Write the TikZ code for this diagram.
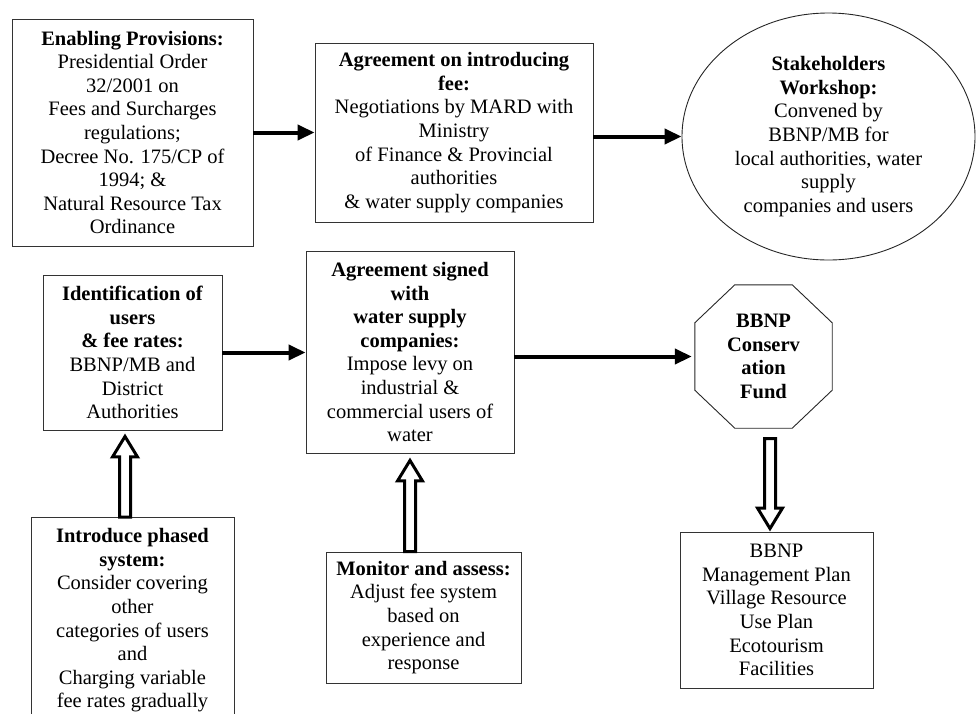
\documentclass[tikz,border=0pt]{standalone}
\usepackage{fontspec}
\setmainfont{Liberation Serif}
\usetikzlibrary{arrows.meta,shapes.geometric,calc}

\begin{document}
\begin{tikzpicture}[x=1pt,y=-1pt,
  every node/.style={font=\fontsize{20.5}{23.6}\selectfont, align=center, inner sep=0pt},
  card/.style={draw=black!80, line width=0.9pt, rectangle},
  outline/.style={draw=black!85, line width=0.9pt},
  flow/.style={line width=4pt, -{Triangle[length=17pt,width=15pt]}},
  hollow/.style={draw=black, fill=white, line width=3pt, line join=miter}
]
\useasboundingbox (0,0) rectangle (977,713);
\clip (0,0) rectangle (977,713);

% top row
\node[card, minimum width=241, minimum height=227] (enable) at (132.5,132.5)
  {\textbf{Enabling Provisions:}\\Presidential Order\\32/2001 on\\Fees and Surcharges\\regulations;\\Decree No. 175/CP of\\1994; \&\\Natural Resource Tax\\Ordinance};

\node[card, minimum width=278, minimum height=179] (negot) at (454,132.5)
  {\textbf{Agreement on introducing}\\\textbf{fee:}\\Negotiations by MARD with\\Ministry\\of Finance \& Provincial\\authorities\\\& water supply companies};

\node[outline, ellipse, minimum width=293, minimum height=247] (work) at (828.5,136.5)
  {\textbf{Stakeholders}\\\textbf{Workshop:}\\Convened by\\BBNP/MB for\\local authorities, water\\supply\\companies and users};

% middle row
\node[card, minimum width=179, minimum height=155] (ident) at (132.5,352.5)
  {\textbf{Identification of}\\\textbf{users}\\\textbf{\& fee rates:}\\BBNP/MB and\\District\\Authorities};

\node[card, minimum width=208, minimum height=202] (signed) at (410,352)
  {\textbf{Agreement signed}\\\textbf{with}\\\textbf{water supply}\\\textbf{companies:}\\Impose levy on\\industrial \&\\commercial users of\\water};

\node[minimum width=137, minimum height=143] (fund) at (763.5,356.5)
  {\textbf{BBNP}\\\textbf{Conserv}\\\textbf{ation}\\\textbf{Fund}};
\draw[outline] ($(fund.north west)+(40,0)$) -- ($(fund.north east)+(-40,0)$)
  -- ($(fund.north east)+(0,38)$) -- ($(fund.south east)+(0,-38)$)
  -- ($(fund.south east)+(-40,0)$) -- ($(fund.south west)+(40,0)$)
  -- ($(fund.south west)+(0,-38)$) -- ($(fund.north west)+(0,38)$) -- cycle;

% bottom row
\node[card, minimum width=203, inner ysep=11pt, anchor=north] (phase) at (132.5,517)
  {\textbf{Introduce phased}\\\textbf{system:}\\Consider covering\\other\\categories of users\\and\\Charging variable\\fee rates gradually};

\node[card, minimum width=195, minimum height=131] (monitor) at (423.5,617.5)
  {\textbf{Monitor and assess:}\\Adjust fee system\\based on\\experience and\\response};

\node[card, minimum width=193, minimum height=156] (uses) at (776.5,610)
  {BBNP\\Management Plan\\Village Resource\\Use Plan\\Ecotourism\\Facilities};

% solid flow arrows
\draw[flow] (enable.east) -- (negot.west);
\draw[flow] (negot.east |- work.west) -- (work.west);
\draw[flow] (ident.east) -- (ident.east -| signed.west);
\draw[flow] (signed.east |- fund.west) -- ([xshift=-3]fund.west);

% hollow block arrows
\draw[hollow] let \p1=($(phase.north)+(-7.5,0)$), \p2=($(ident.south)+(-7.5,6)$) in
  (\x1-5.5pt,\y1) -- (\x1-5.5pt,\y2-20.5pt) -- (\x1-12.5pt,\y2-20.5pt) -- (\p2)
  -- (\x1+12.5pt,\y2-20.5pt) -- (\x1+5.5pt,\y2-20.5pt) -- (\x1+5.5pt,\y1) -- cycle;
\draw[hollow] let \p1=(signed.south |- monitor.north), \p2=($(signed.south)+(0,7)$) in
  (\x1-5.5pt,\y1) -- (\x1-5.5pt,\y2-20.5pt) -- (\x1-12.5pt,\y2-20.5pt) -- (\p2)
  -- (\x1+12.5pt,\y2-20.5pt) -- (\x1+5.5pt,\y2-20.5pt) -- (\x1+5.5pt,\y1) -- cycle;
\draw[hollow] let \p1=($(fund.south)+(6.5,10.5)$), \p2=($(uses.north)+(-6.5,-3)$) in
  (\x1-5.5pt,\y1) -- (\x1-5.5pt,\y2+20.5pt) -- (\x1-12.5pt,\y2+20.5pt) -- (\p2)
  -- (\x1+12.5pt,\y2+20.5pt) -- (\x1+5.5pt,\y2+20.5pt) -- (\x1+5.5pt,\y1) -- cycle;
\end{tikzpicture}
\end{document}
